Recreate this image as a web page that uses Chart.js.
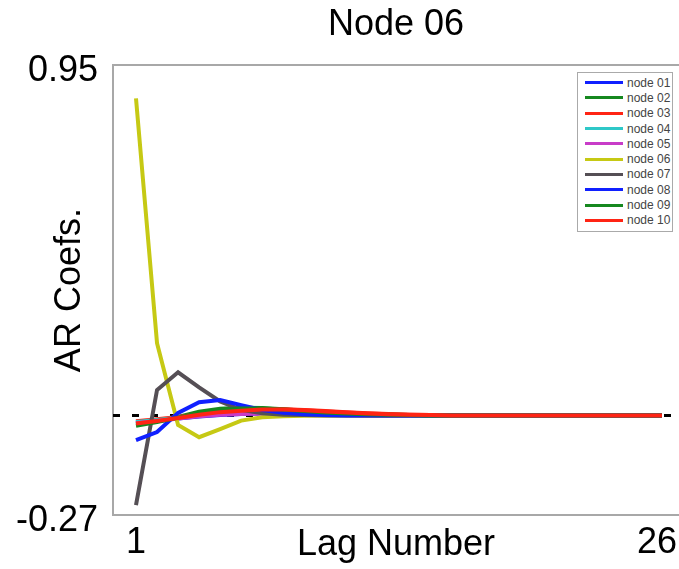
<!DOCTYPE html>
<html>
<head>
<meta charset="utf-8">
<script src="https://cdn.jsdelivr.net/npm/chart.js@4"></script>
<style>
  html, body { margin: 0; padding: 0; background: #fff; }
  #wrap { position: relative; width: 679px; height: 569px; overflow: hidden; }
  #legend {
    position: absolute; left: 577px; top: 72px; width: 96px; height: 160px;
    box-sizing: border-box; border: 1px solid #aaa; background: #fff; padding-top: 2px;
    font-family: 'Liberation Sans', Arial, Helvetica, sans-serif; font-size: 12px; color: #444;
  }
  #legend .row { display: flex; align-items: center; height: 15.3px; }
  #legend .swatch { width: 38px; height: 3px; margin-left: 7px; margin-right: 4px; }
</style>
</head>
<body>
<div id="wrap">
  <canvas id="chart" width="679" height="569"></canvas>
  <div id="legend"></div>
</div>
<script>
// lags on the x axis
const lags = [1, 2, 3, 4, 5, 6, 7, 8, 9, 10, 11, 12, 13, 14, 15, 16, 17, 18, 19, 20, 21, 22, 23, 24, 25, 26];
const xTicks = [1, 26];
const xTickLabels = ['1', '26 '];   // trailing space nudges the last label left like the original
const yTicks = [-0.27, 0.95];
const yTickLabels = ['-0.27', '0.95'];

// AR coefficients per source node (target node 06)
const node01 = [-0.020, -0.014, -0.008, -0.003, 0.001, 0.004, 0.005, 0.005, 0.004, 0.003, 0.002, 0.001, 0, 0, 0, 0, 0, 0, 0, 0, 0, 0, 0, 0, 0, 0];
const node02 = [-0.024, -0.016, -0.004, 0.010, 0.018, 0.021, 0.020, 0.017, 0.013, 0.009, 0.006, 0.004, 0.002, 0.001, 0, 0, 0, 0, 0, 0, 0, 0, 0, 0, 0, 0];
const node03 = [-0.016, -0.010, -0.004, 0.004, 0.010, 0.015, 0.017, 0.017, 0.015, 0.012, 0.009, 0.006, 0.004, 0.002, 0.001, 0, 0, 0, 0, 0, 0, 0, 0, 0, 0, 0];
const node04 = [-0.018, -0.012, -0.006, 0.000, 0.005, 0.008, 0.009, 0.008, 0.006, 0.004, 0.002, 0.001, 0, 0, 0, 0, 0, 0, 0, 0, 0, 0, 0, 0, 0, 0];
const node05 = [-0.021, -0.015, -0.008, -0.002, 0.002, 0.004, 0.005, 0.004, 0.003, 0.002, 0.001, 0, 0, 0, 0, 0, 0, 0, 0, 0, 0, 0, 0, 0, 0, 0];
const node06 = [0.860, 0.196, -0.026, -0.059, -0.037, -0.014, -0.005, -0.002, -0.001, 0, 0, 0, 0, 0, 0, 0, 0, 0, 0, 0, 0, 0, 0, 0, 0, 0];
const node07 = [-0.243, 0.069, 0.117, 0.076, 0.038, 0.015, 0.006, 0.002, 0.001, 0, 0, 0, 0, 0, 0, 0, 0, 0, 0, 0, 0, 0, 0, 0, 0, 0];
const node08 = [-0.067, -0.045, 0.007, 0.036, 0.042, 0.028, 0.015, 0.007, 0.003, 0.001, 0, 0, 0, 0, 0, 0, 0, 0, 0, 0, 0, 0, 0, 0, 0, 0];
const node09 = [-0.028, -0.018, -0.006, 0.006, 0.015, 0.019, 0.019, 0.016, 0.012, 0.008, 0.005, 0.003, 0.002, 0.001, 0, 0, 0, 0, 0, 0, 0, 0, 0, 0, 0, 0];
const node10 = [-0.022, -0.015, -0.007, 0.002, 0.009, 0.013, 0.016, 0.016, 0.014, 0.011, 0.008, 0.005, 0.003, 0.002, 0.001, 0, 0, 0, 0, 0, 0, 0, 0, 0, 0, 0];

const seriesNames = ['node 01', 'node 02', 'node 03', 'node 04', 'node 05', 'node 06', 'node 07', 'node 08', 'node 09', 'node 10'];
const seriesValues = [node01, node02, node03, node04, node05, node06, node07, node08, node09, node10];
const seriesColors = ['#1020ff', '#16881f', '#ff2414', '#2ec8c8', '#c83cc8', '#c6c914', '#554f55', '#1020ff', '#16881f', '#ff2414'];

const xMin = -0.093, xMax = 26.81;
const FONT = "'Liberation Sans', Arial, Helvetica, sans-serif";

const datasets = seriesNames.map((name, i) => ({
    label: name,
    data: lags.map((lag, j) => ({ x: lag, y: seriesValues[i][j] })),
    borderColor: seriesColors[i],
    backgroundColor: seriesColors[i],
    borderWidth: 4,
    pointRadius: 0,
    tension: 0,
    fill: false,
    order: seriesNames.length - i   // later nodes drawn on top
}));

// dashed zero reference line under everything
datasets.push({
    label: 'zero',
    data: [{ x: xMin, y: 0 }, { x: xMax, y: 0 }],
    borderColor: '#000',
    borderWidth: 3,
    borderDash: [7, 12],
    pointRadius: 0,
    fill: false,
    order: 99
});

function noPad(scale) {
    scale.paddingLeft = 0; scale.paddingRight = 0;
    scale.paddingTop = 0; scale.paddingBottom = 0;
}

const chart = new Chart(document.getElementById('chart'), {
    type: 'line',
    data: { datasets: datasets },
    options: {
        responsive: false,
        animation: false,
        layout: { padding: 0 },
        plugins: {
            legend: { display: false },
            tooltip: { enabled: false },
            title: {
                display: true,
                text: 'Node 06',
                color: '#000',
                fullSize: false,
                font: { family: FONT, size: 36, weight: 'normal' },
                padding: { top: 3, bottom: 19 }
            }
        },
        scales: {
            x: {
                type: 'linear',
                min: xMin,
                max: xMax,
                grid: { display: false, drawTicks: false },
                border: { display: true, color: '#a8a8a8', width: 2 },
                afterBuildTicks: s => { s.ticks = xTicks.map(v => ({ value: v })); },
                afterFit: s => { s.height = 54; noPad(s); },
                ticks: {
                    padding: 6,
                    color: '#000',
                    font: { family: FONT, size: 36 },
                    callback: (v, i) => xTickLabels[i],
                    maxRotation: 0
                },
                title: {
                    display: true,
                    text: 'Lag Number',
                    color: '#000',
                    font: { family: FONT, size: 36 },
                    padding: { top: 0, bottom: 2 }
                }
            },
            xTop: {
                type: 'linear',
                position: 'top',
                grid: { display: false, drawTicks: false },
                ticks: { display: false },
                border: { display: true, color: '#a8a8a8', width: 2 },
                afterFit: s => { s.height = 0; noPad(s); }
            },
            y: {
                type: 'linear',
                min: yTicks[0],
                max: yTicks[1],
                grid: { display: false, drawTicks: false },
                border: { display: true, color: '#a8a8a8', width: 2 },
                afterBuildTicks: s => { s.ticks = yTicks.map(v => ({ value: v })); },
                afterFit: s => { s.width = 113; noPad(s); },
                ticks: {
                    padding: 15,
                    labelOffset: 6,
                    color: '#000',
                    font: { family: FONT, size: 36 },
                    callback: (v, i) => yTickLabels[i]
                },
                title: {
                    display: true,
                    text: 'AR Coefs.',
                    color: '#000',
                    font: { family: FONT, size: 36 },
                    padding: { top: 48, bottom: 0 }
                }
            }
        }
    }
});

// legend box in the upper right, built from the datasets
const legendEl = document.getElementById('legend');
chart.data.datasets.filter(d => d.label !== 'zero').forEach(d => {
    const row = document.createElement('div');
    row.className = 'row';
    const sw = document.createElement('span');
    sw.className = 'swatch';
    sw.style.background = d.borderColor;
    const txt = document.createElement('span');
    txt.textContent = d.label;
    row.appendChild(sw);
    row.appendChild(txt);
    legendEl.appendChild(row);
});
</script>
</body>
</html>
